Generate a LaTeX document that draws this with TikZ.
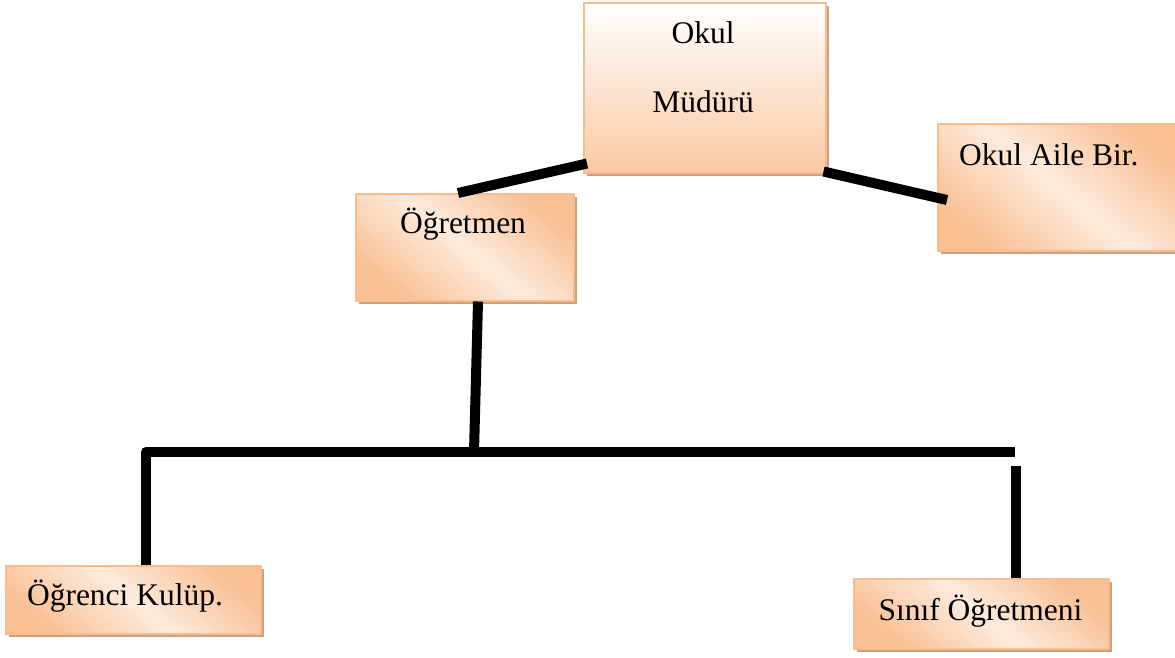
\documentclass[tikz,border=0pt]{standalone}
\usepackage{fontspec}
\setmainfont{Liberation Serif}
\usetikzlibrary{shadows,calc}
\definecolor{peach}{HTML}{F9C094}
\definecolor{lightpeach}{HTML}{FDEBDD}
\definecolor{boxedge}{HTML}{F9BD8D}
\definecolor{shadowcol}{HTML}{C9A283}
\tikzset{
  box/.style={draw=boxedge, line width=1.5pt, rectangle, inner sep=0pt, anchor=north west,
    drop shadow={shadow xshift=3pt, shadow yshift=-3pt, fill=shadowcol, opacity=1}},
  diagbox/.style={box, top color=peach, bottom color=peach, middle color=lightpeach, shading angle=-40},
  vertbox/.style={box, top color=white, bottom color=peach!85!white},
  lbl/.style={font=\fontsize{31.5}{36}\selectfont, inner sep=0pt},
  conn/.style={line width=10pt, black},
}
\begin{document}
\begin{tikzpicture}[x=1pt,y=-1pt]
\useasboundingbox (0,0) rectangle (1175,657);
% boxes
\node[vertbox, minimum width=242pt, minimum height=170pt] (mud) at (583,2) {};
\node[diagbox, minimum width=218pt, minimum height=107pt] (ogr) at (355,193) {};
\node[diagbox, minimum width=241pt, minimum height=127pt] (aile) at (937,123) {};
\node[diagbox, minimum width=255pt, minimum height=68pt] (kulup) at (5,565) {};
\node[diagbox, minimum width=255pt, minimum height=70pt] (sinif) at (853,578) {};
% texts
\node[lbl, anchor=base] (t1) at (703,43) {Okul};
\node[lbl, anchor=base] (t2) at (703,112) {Müdürü};
\node[lbl, anchor=base] (t3) at (463,233) {Öğretmen};
\node[lbl, anchor=base west] (t4) at (959,165) {Okul Aile Bir.};
\node[lbl, anchor=base] (t5) at (125,605) {Öğrenci Kulüp.};
\node[lbl, anchor=base] (t6) at (980.5,620) {Sınıf Öğretmeni};
% connector coordinates
\coordinate (busL) at (146,452);
\coordinate (busR) at (1015,452);
\coordinate (junc) at (474,452);
\coordinate (gapR) at (1016,466);
% connectors
\draw[conn] ($(mud.south west)+(4,-10)$) -- ($(ogr.north west)+(103,0)$);
\draw[conn] ($(mud.south east)+(-3,-2)$) -- ($(aile.north west)+(10,77)$);
\draw[conn] ($(ogr.south west)+(123,0)$) -- (junc);
\draw[conn, line join=round] ($(kulup.north west)+(141,0)$) -- (busL) -- (busR);
\draw[conn] (gapR) -- ($(sinif.north west)+(163,0)$);
\end{tikzpicture}
\end{document}
